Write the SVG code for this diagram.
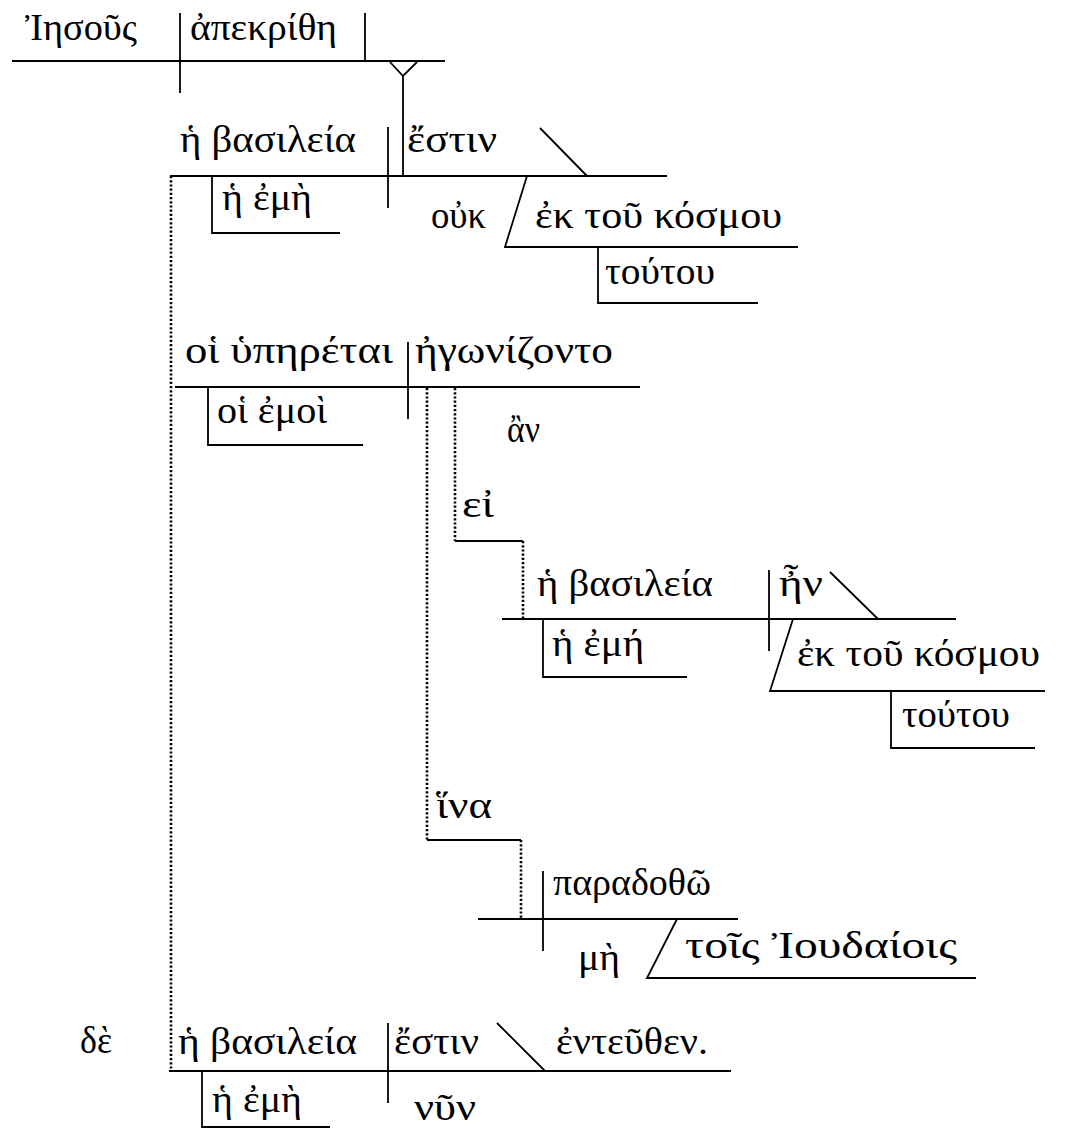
<svg xmlns="http://www.w3.org/2000/svg" width="1072" height="1129" viewBox="0 0 1072 1129">
<style>
text{font-family:"Liberation Serif","DejaVu Serif",serif;font-size:37px;fill:#000}
.l{stroke:#000;stroke-width:1.8;fill:none}
.d{stroke:#000;stroke-width:2.6;fill:none;stroke-dasharray:2.2 2}
</style>
<rect width="1072" height="1129" fill="#fff"/>
<g id="connectors">
<path class="d" d="M171 176V1071"/>
<path class="d" d="M427 388V840"/>
<path class="l" d="M427 840H521"/>
<path class="d" d="M521 840V919"/>
<path class="d" d="M455 388V541"/>
<path class="l" d="M455 541H523"/>
<path class="d" d="M523 541V619"/>
<path class="l" d="M390 62L403 76L417 62M403 76V176"/>
</g>
<g id="clause1">
<path class="l" d="M12 61H445M180 13V93M365 13V61"/>
<text x="25" y="40" textLength="112" lengthAdjust="spacingAndGlyphs">Ἰησοῦς</text>
<text x="190" y="40" textLength="147" lengthAdjust="spacingAndGlyphs">ἀπεκρίθη</text>
</g>
<g id="clause2">
<path class="l" d="M170 176H667M388 127V208M540 128L587 176M212 176V233H340M527 176L505 247H798M598 247V303H758"/>
<text x="180" y="152" textLength="176" lengthAdjust="spacingAndGlyphs">ἡ βασιλεία</text>
<text x="407" y="152" textLength="90" lengthAdjust="spacingAndGlyphs">ἔστιν</text>
<text x="222" y="210" textLength="90" lengthAdjust="spacingAndGlyphs">ἡ ἐμὴ</text>
<text x="431" y="228" textLength="55" lengthAdjust="spacingAndGlyphs">οὐκ</text>
<text x="535" y="228" textLength="247" lengthAdjust="spacingAndGlyphs">ἐκ τοῦ κόσμου</text>
<text x="605" y="284" textLength="110" lengthAdjust="spacingAndGlyphs">τούτου</text>
</g>
<g id="clause3">
<path class="l" d="M175 387H640M408 342V419M208 387V445H363"/>
<text x="185" y="363" textLength="208" lengthAdjust="spacingAndGlyphs">οἱ ὑπηρέται</text>
<text x="415" y="363" textLength="198" lengthAdjust="spacingAndGlyphs">ἠγωνίζοντο</text>
<text x="217" y="423" textLength="110" lengthAdjust="spacingAndGlyphs">οἱ ἐμοὶ</text>
<text x="507" y="442" textLength="33" lengthAdjust="spacingAndGlyphs">ἂν</text>
<text x="462" y="517" textLength="32" lengthAdjust="spacingAndGlyphs">εἰ</text>
</g>
<g id="clause4">
<path class="l" d="M502 619H956M769 570V651M830 572L878 619M543 619V677H687M793 619L770 691H1045M891 691V748H1035"/>
<text x="537" y="596" textLength="176" lengthAdjust="spacingAndGlyphs">ἡ βασιλεία</text>
<text x="779" y="596" textLength="44" lengthAdjust="spacingAndGlyphs">ἦν</text>
<text x="552" y="656" textLength="92" lengthAdjust="spacingAndGlyphs">ἡ ἐμή</text>
<text x="797" y="666" textLength="243" lengthAdjust="spacingAndGlyphs">ἐκ τοῦ κόσμου</text>
<text x="902" y="727" textLength="108" lengthAdjust="spacingAndGlyphs">τούτου</text>
</g>
<g id="clause5">
<text x="436" y="818" textLength="56" lengthAdjust="spacingAndGlyphs">ἵνα</text>
<path class="l" d="M478 919H738M543 871V951M677 919L647 978H976"/>
<text x="553" y="895" textLength="158" lengthAdjust="spacingAndGlyphs">παραδοθῶ</text>
<text x="578" y="970" textLength="42" lengthAdjust="spacingAndGlyphs">μὴ</text>
<text x="685" y="958" textLength="272" lengthAdjust="spacingAndGlyphs">τοῖς Ἰουδαίοις</text>
</g>
<g id="clause6">
<path class="l" d="M169 1071H731M388 1023V1103M497 1023L545 1071M202 1071V1127H330"/>
<text x="80" y="1053" textLength="32" lengthAdjust="spacingAndGlyphs">δὲ</text>
<text x="178" y="1054" textLength="179" lengthAdjust="spacingAndGlyphs">ἡ βασιλεία</text>
<text x="394" y="1054" textLength="85" lengthAdjust="spacingAndGlyphs">ἔστιν</text>
<text x="556" y="1054" textLength="152" lengthAdjust="spacingAndGlyphs">ἐντεῦθεν.</text>
<text x="212" y="1112" textLength="90" lengthAdjust="spacingAndGlyphs">ἡ ἐμὴ</text>
<text x="414" y="1120" textLength="62" lengthAdjust="spacingAndGlyphs">νῦν</text>
</g>
</svg>
